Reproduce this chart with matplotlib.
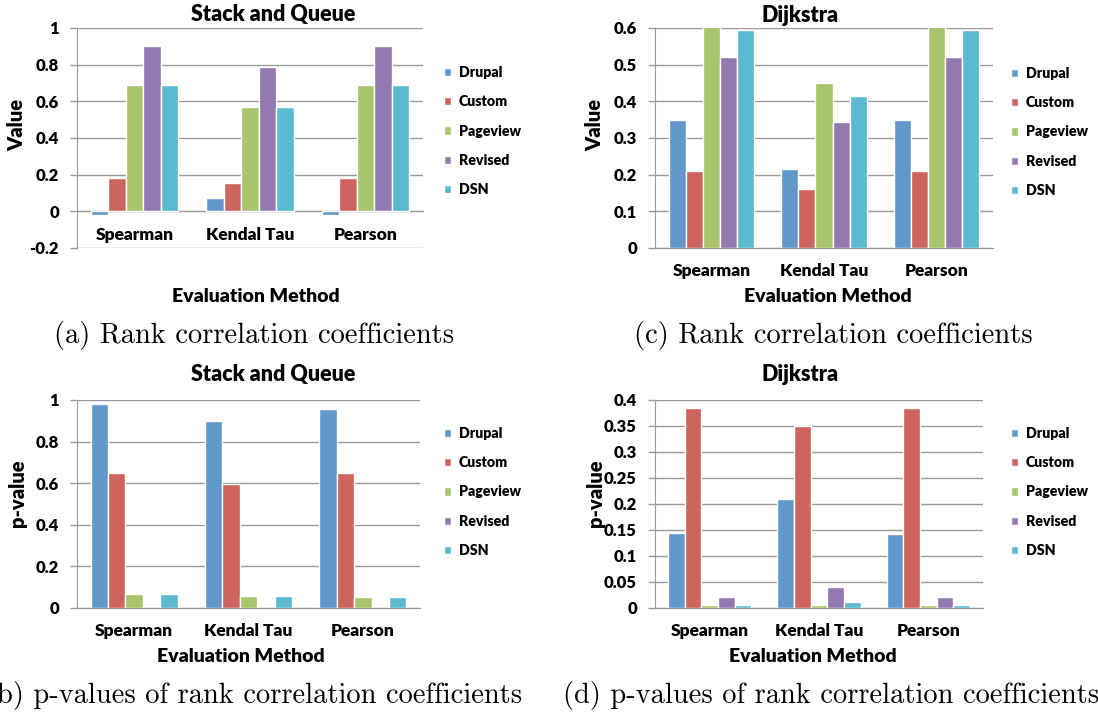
import matplotlib
matplotlib.use("Agg")
import matplotlib.pyplot as plt
import numpy as np

methods = ["Spearman", "Kendal Tau", "Pearson"]
series = ["Drupal", "Custom", "Pageview", "Revised", "DSN"]
colors = ["#6297CC", "#CD645E", "#A8C46C", "#9479B1", "#5CB9D2"]

# rank correlation, stack and queue (rows = series, cols = methods)
sq_corr = [[-0.02, 0.07, -0.02],
           [0.18, 0.155, 0.18],
           [0.69, 0.57, 0.69],
           [0.90, 0.785, 0.90],
           [0.69, 0.57, 0.69]]
# rank correlation, dijkstra
dj_corr = [[0.35, 0.215, 0.35],
           [0.21, 0.16, 0.21],
           [0.61, 0.45, 0.61],
           [0.52, 0.345, 0.52],
           [0.595, 0.415, 0.595]]
# p-values, stack and queue
sq_p = [[0.98, 0.90, 0.955],
        [0.65, 0.595, 0.65],
        [0.065, 0.06, 0.055],
        [0.0, 0.0, 0.0],
        [0.065, 0.06, 0.055]]
# p-values, dijkstra
dj_p = [[0.145, 0.21, 0.142],
        [0.385, 0.35, 0.385],
        [0.005, 0.005, 0.005],
        [0.022, 0.04, 0.022],
        [0.005, 0.011, 0.005]]

W, H = 1098, 713
fig = plt.figure(figsize=(W / 100, H / 100), dpi=100)
plt.rcParams["font.family"] = ["Lato", "DejaVu Sans"]
WT = "heavy"


def fx(px):
    return px / W


def fy(py):
    return 1 - py / H


def panel(rect, data, ylim, yticks, ytick_fmt, ylabel, title, title_xy,
          xlabel_xy, ylabel_xy, legend_xy, caption, caption_xy, caption_ha):
    left, top, right, bottom = rect
    ax = fig.add_axes([fx(left), fy(bottom), fx(right - left), fy(top) - fy(bottom)])
    if ylim[0] < 0:
        ax.spines["bottom"].set_position(("data", 0))
    x = np.arange(len(methods))
    bw = 0.152
    for i, (name, col) in enumerate(zip(series, colors)):
        ax.bar(x + (i - 2) * bw, data[i], bw, color=col, edgecolor="white",
               linewidth=1.0, label=name, zorder=3)
    ax.set_xlim(-0.5, 2.5)
    ax.set_ylim(*ylim)
    ax.set_yticks(yticks)
    ax.set_yticklabels([ytick_fmt(v) for v in yticks], fontsize=12, fontweight=WT)
    ax.set_xticks(x)
    ax.set_xticklabels(methods, fontsize=12.5, fontweight=WT)
    ax.tick_params(axis="x", length=0, pad=11)
    ax.tick_params(axis="y", length=5, width=1, color="#999999", pad=8)
    ax.grid(axis="y", color="#999999", linewidth=1, zorder=0)
    for s in ["top", "right"]:
        ax.spines[s].set_visible(False)
    ax.spines["left"].set_color("#999999")
    ax.spines["bottom"].set_color("#999999")
    fig.text(fx(title_xy[0]), fy(title_xy[1]), title, ha="center", va="center",
             fontsize=15.5, fontweight=WT)
    fig.text(fx(xlabel_xy[0]), fy(xlabel_xy[1]), "Evaluation Method", ha="center",
             va="center", fontsize=14, fontweight=WT)
    fig.text(fx(ylabel_xy[0]), fy(ylabel_xy[1]), ylabel, ha="center", va="center",
             rotation=90, fontsize=14.5, fontweight=WT)
    fig.legend(*ax.get_legend_handles_labels(), loc="center left",
               bbox_to_anchor=(fx(legend_xy[0]), fy(legend_xy[1])), frameon=False,
               prop={"size": 10.2, "weight": WT}, handlelength=0.55,
               handleheight=0.55, handletextpad=0.5, labelspacing=1.15,
               borderaxespad=0)
    fig.text(fx(caption_xy[0]), fy(caption_xy[1]), caption, ha=caption_ha,
             va="center", fontsize=20.5, family="cmr10")
    return ax


panel((77, 28, 423, 248), sq_corr, (-0.2, 1.0), [-0.2, 0, 0.2, 0.4, 0.6, 0.8, 1.0],
      lambda v: "0" if v == 0 else ("1" if v == 1 else f"{v:.1f}"),
      "Value", "Stack and Queue", (273, 15), (256, 296), (17, 125), (438, 131),
      "(a) Rank correlation coefficients", (254, 336), "center")

panel((655, 28, 993, 248), dj_corr, (0, 0.6), [0, 0.1, 0.2, 0.3, 0.4, 0.5, 0.6],
      lambda v: "0" if v == 0 else f"{v:.1f}",
      "Value", "Dijkstra", (800, 15), (828, 296), (595, 125), (1005, 132),
      "(c) Rank correlation coefficients", (833, 336), "center")

panel((77, 400, 420, 608), sq_p, (0, 1.0), [0, 0.2, 0.4, 0.6, 0.8, 1.0],
      lambda v: "0" if v == 0 else ("1" if v == 1 else f"{v:.1f}"),
      "p-value", "Stack and Queue", (273, 375), (241, 656), (17, 493), (438, 492),
      "(b) p-values of rank correlation coefficients", (522, 695), "right")

panel((655, 400, 983, 608), dj_p, (0, 0.4),
      [0, 0.05, 0.1, 0.15, 0.2, 0.25, 0.3, 0.35, 0.4],
      lambda v: "0" if v == 0 else f"{v:g}",
      "p-value", "Dijkstra", (800, 375), (813, 656), (595, 493), (1005, 492),
      "(d) p-values of rank correlation coefficients", (563, 695), "left")

fig.savefig("out.png", dpi=100)
